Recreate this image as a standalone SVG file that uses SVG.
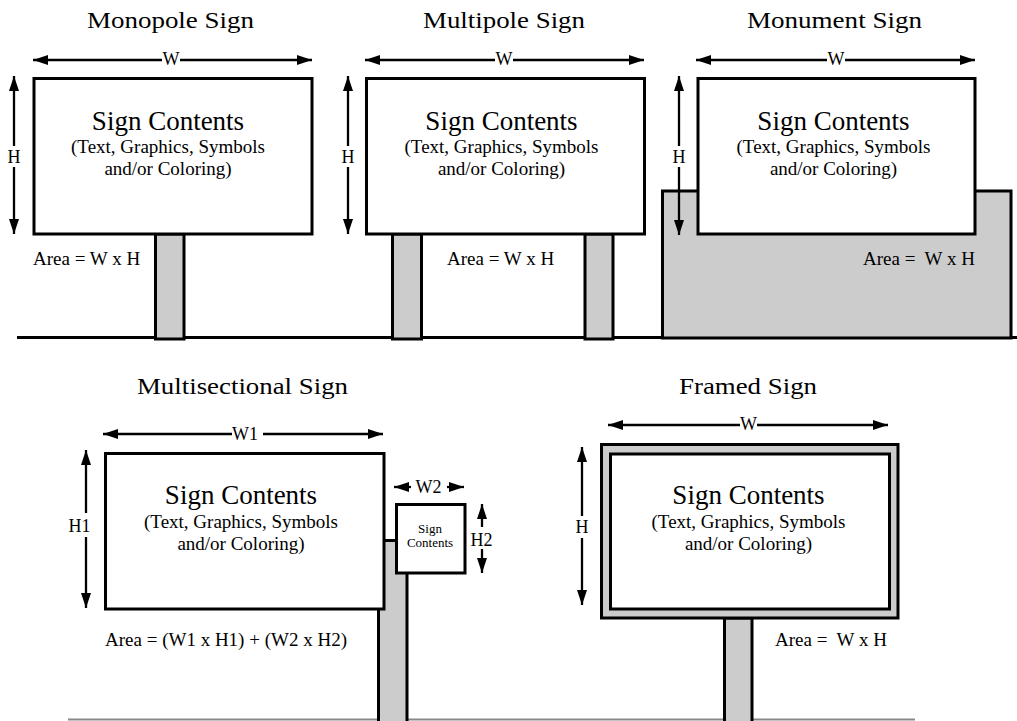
<svg xmlns="http://www.w3.org/2000/svg" width="1017" height="721" viewBox="0 0 1017 721">
<style>
text{font-family:"Liberation Serif","Times New Roman",serif;fill:#000}
.title{font-size:23px;text-anchor:middle}
.big{font-size:27px;text-anchor:middle}
.sub{font-size:19px;text-anchor:middle}
.dim{font-size:18px;text-anchor:middle}
.area{font-size:19px;white-space:pre}
.small{font-size:13px;text-anchor:middle}
.box{fill:#fff;stroke:#000;stroke-width:3}
.gray{fill:#ccc;stroke:#000;stroke-width:3}
.arr{stroke:#000;stroke-width:2.3;fill:none;marker-end:url(#ah)}
</style>
<defs>
<marker id="ah" markerUnits="userSpaceOnUse" markerWidth="15" markerHeight="10" refX="15" refY="5" orient="auto" viewBox="0 0 15 10">
<path d="M0,0 L15,5 L0,10 z" fill="#000"/>
</marker>
</defs>
<rect width="1017" height="721" fill="#fff"/>
<line x1="17" y1="337.5" x2="1017" y2="337.5" stroke="#000" stroke-width="3"/>
<line x1="68" y1="719.5" x2="915" y2="719.5" stroke="#888" stroke-width="2"/>

<g id="monopole">
<text class="title" x="170.5" y="28" textLength="167" lengthAdjust="spacingAndGlyphs">Monopole Sign</text>
<rect class="gray" x="155.5" y="234" width="28.5" height="105"/>
<rect class="box" x="34" y="78.5" width="278" height="155.5"/>
<text class="big" x="168" y="130">Sign Contents</text>
<text class="sub" x="168" y="153">(Text, Graphics, Symbols</text>
<text class="sub" x="168" y="175">and/or Coloring)</text>
<text class="area" x="33" y="265">Area = W x H</text>
</g>

<g id="multipole">
<text class="title" x="504" y="28" textLength="162" lengthAdjust="spacingAndGlyphs">Multipole Sign</text>
<rect class="gray" x="392.5" y="234" width="29" height="105"/>
<rect class="gray" x="585" y="234" width="28" height="105"/>
<rect class="box" x="366.5" y="78.5" width="278" height="155.5"/>
<text class="big" x="501.5" y="130">Sign Contents</text>
<text class="sub" x="501.5" y="153">(Text, Graphics, Symbols</text>
<text class="sub" x="501.5" y="175">and/or Coloring)</text>
<text class="area" x="447" y="265">Area = W x H</text>
</g>

<g id="monument">
<text class="title" x="834.5" y="28" textLength="175" lengthAdjust="spacingAndGlyphs">Monument Sign</text>
<rect class="gray" x="662.5" y="191" width="348.5" height="147"/>
<rect class="box" x="698" y="78.5" width="277" height="155.5"/>
<text class="big" x="833.5" y="130">Sign Contents</text>
<text class="sub" x="833.5" y="153">(Text, Graphics, Symbols</text>
<text class="sub" x="833.5" y="175">and/or Coloring)</text>
<text class="area" x="863" y="265">Area =  W x H</text>
</g>

<g id="multisectional">
<text class="title" x="242.5" y="394" textLength="211" lengthAdjust="spacingAndGlyphs">Multisectional Sign</text>
<rect class="gray" x="378.5" y="540.5" width="28.5" height="185"/>
<rect class="box" x="105.5" y="453.5" width="278.5" height="155.5"/>
<rect class="box" x="396.5" y="504.5" width="68.5" height="68.5"/>
<text class="big" x="241" y="504">Sign Contents</text>
<text class="sub" x="241" y="528">(Text, Graphics, Symbols</text>
<text class="sub" x="241" y="550">and/or Coloring)</text>
<text class="small" x="430" y="533">Sign</text>
<text class="small" x="430" y="547">Contents</text>
<text class="area" x="105" y="646">Area = (W1 x H1) + (W2 x H2)</text>
</g>

<g id="framed">
<text class="title" x="748" y="394" textLength="138" lengthAdjust="spacingAndGlyphs">Framed Sign</text>
<rect class="gray" x="724.5" y="618" width="27.5" height="110"/>
<rect class="gray" x="601.5" y="444.5" width="296.5" height="173.5"/>
<rect class="box" x="610.5" y="454" width="279" height="155"/>
<text class="big" x="748.5" y="504">Sign Contents</text>
<text class="sub" x="748.5" y="528">(Text, Graphics, Symbols</text>
<text class="sub" x="748.5" y="550">and/or Coloring)</text>
<text class="area" x="775" y="646">Area =  W x H</text>
</g>

<g id="dimensions">
<!-- monopole -->
<line class="arr" x1="162" y1="60" x2="33" y2="60"/>
<line class="arr" x1="180" y1="60" x2="312" y2="60"/>
<text class="dim" x="171" y="65">W</text>
<line class="arr" x1="14" y1="146" x2="14" y2="76"/>
<line class="arr" x1="14" y1="167" x2="14" y2="234"/>
<text class="dim" x="14" y="163">H</text>
<!-- multipole -->
<line class="arr" x1="495" y1="60" x2="365" y2="60"/>
<line class="arr" x1="513" y1="60" x2="644" y2="60"/>
<text class="dim" x="504" y="65">W</text>
<line class="arr" x1="348" y1="146" x2="348" y2="76"/>
<line class="arr" x1="348" y1="167" x2="348" y2="234"/>
<text class="dim" x="348" y="163">H</text>
<!-- monument -->
<line class="arr" x1="827" y1="60" x2="696" y2="60"/>
<line class="arr" x1="845" y1="60" x2="975" y2="60"/>
<text class="dim" x="836" y="65">W</text>
<line class="arr" x1="679" y1="146" x2="679" y2="76"/>
<line class="arr" x1="679" y1="167" x2="679" y2="235"/>
<text class="dim" x="679" y="163">H</text>
<!-- multisectional -->
<line class="arr" x1="232" y1="434" x2="103" y2="434"/>
<line class="arr" x1="263" y1="434" x2="383" y2="434"/>
<text class="dim" x="245" y="440">W1</text>
<line class="arr" x1="86" y1="513" x2="86" y2="450"/>
<line class="arr" x1="86" y1="537" x2="86" y2="608"/>
<text class="dim" x="79.5" y="532">H1</text>
<line class="arr" x1="411" y1="487" x2="394" y2="487"/>
<line class="arr" x1="447" y1="487" x2="464" y2="487"/>
<text class="dim" x="428.5" y="493">W2</text>
<line class="arr" x1="482" y1="527" x2="482" y2="504"/>
<line class="arr" x1="482" y1="549" x2="482" y2="573"/>
<text class="dim" x="481.5" y="546">H2</text>
<!-- framed -->
<line class="arr" x1="740" y1="425" x2="608" y2="425"/>
<line class="arr" x1="757" y1="425" x2="888" y2="425"/>
<text class="dim" x="748.5" y="430">W</text>
<line class="arr" x1="582" y1="516" x2="582" y2="447"/>
<line class="arr" x1="582" y1="538" x2="582" y2="605"/>
<text class="dim" x="582" y="533">H</text>
</g>
</svg>
